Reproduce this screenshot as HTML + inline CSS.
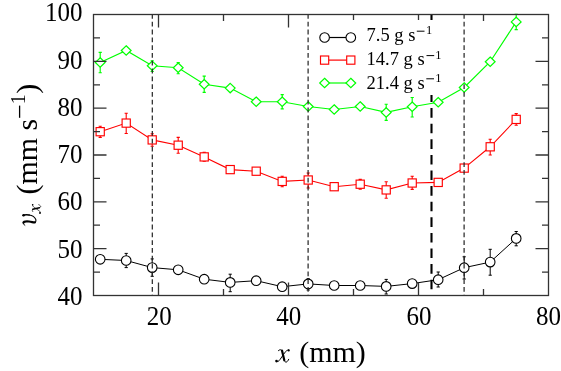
<!DOCTYPE html>
<html><head><meta charset="utf-8"><style>
html,body{margin:0;padding:0;background:#fff;}
svg{display:block;will-change:transform;}
text{font-family:"Liberation Serif",serif;fill:#000;}
.tk{font-size:25px;}
.lg{font-size:18.5px;}
.ti{font-size:30px;}
</style></head><body>
<svg width="561" height="371" viewBox="0 0 561 371">
<rect width="561" height="371" fill="#fff"/>
<polyline points="100.2,259.3 126.2,260.5 152.2,267.6 178.2,269.8 204.2,279.2 230.2,282.4 256.2,280.7 282.2,286.7 308.2,283.9 334.2,285.5 360.2,285.5 386.2,286.4 412.2,283.6 438.2,279.7 464.2,267.7 490.2,262.1 516.2,238.4" fill="none" stroke="#000" stroke-width="1.0"/>
<path d="M126.2 253.4V267.6M124.6 253.4h3.2M124.6 267.6h3.2" stroke="#000" stroke-width="1.0" fill="none"/>
<path d="M152.2 258.9V276.3M150.6 258.9h3.2M150.6 276.3h3.2" stroke="#000" stroke-width="1.0" fill="none"/>
<path d="M230.2 274.2V291.7M228.6 274.2h3.2M228.6 291.7h3.2" stroke="#000" stroke-width="1.0" fill="none"/>
<path d="M308.2 278.7V290.0M306.6 278.7h3.2M306.6 290.0h3.2" stroke="#000" stroke-width="1.0" fill="none"/>
<path d="M386.2 279.4V294.0M384.6 279.4h3.2M384.6 294.0h3.2" stroke="#000" stroke-width="1.0" fill="none"/>
<path d="M438.2 272.0V287.0M436.6 272.0h3.2M436.6 287.0h3.2" stroke="#000" stroke-width="1.0" fill="none"/>
<path d="M464.2 256.8V279.0M462.6 256.8h3.2M462.6 279.0h3.2" stroke="#000" stroke-width="1.0" fill="none"/>
<path d="M490.2 249.3V275.2M488.6 249.3h3.2M488.6 275.2h3.2" stroke="#000" stroke-width="1.0" fill="none"/>
<path d="M516.2 231.5V245.8M514.6 231.5h3.2M514.6 245.8h3.2" stroke="#000" stroke-width="1.0" fill="none"/>
<circle cx="100.2" cy="259.3" r="4.8" fill="#fff" stroke="#000" stroke-width="1.1"/>
<circle cx="126.2" cy="260.5" r="4.8" fill="#fff" stroke="#000" stroke-width="1.1"/>
<circle cx="152.2" cy="267.6" r="4.8" fill="#fff" stroke="#000" stroke-width="1.1"/>
<circle cx="178.2" cy="269.8" r="4.8" fill="#fff" stroke="#000" stroke-width="1.1"/>
<circle cx="204.2" cy="279.2" r="4.8" fill="#fff" stroke="#000" stroke-width="1.1"/>
<circle cx="230.2" cy="282.4" r="4.8" fill="#fff" stroke="#000" stroke-width="1.1"/>
<circle cx="256.2" cy="280.7" r="4.8" fill="#fff" stroke="#000" stroke-width="1.1"/>
<circle cx="282.2" cy="286.7" r="4.8" fill="#fff" stroke="#000" stroke-width="1.1"/>
<circle cx="308.2" cy="283.9" r="4.8" fill="#fff" stroke="#000" stroke-width="1.1"/>
<circle cx="334.2" cy="285.5" r="4.8" fill="#fff" stroke="#000" stroke-width="1.1"/>
<circle cx="360.2" cy="285.5" r="4.8" fill="#fff" stroke="#000" stroke-width="1.1"/>
<circle cx="386.2" cy="286.4" r="4.8" fill="#fff" stroke="#000" stroke-width="1.1"/>
<circle cx="412.2" cy="283.6" r="4.8" fill="#fff" stroke="#000" stroke-width="1.1"/>
<circle cx="438.2" cy="279.7" r="4.8" fill="#fff" stroke="#000" stroke-width="1.1"/>
<circle cx="464.2" cy="267.7" r="4.8" fill="#fff" stroke="#000" stroke-width="1.1"/>
<circle cx="490.2" cy="262.1" r="4.8" fill="#fff" stroke="#000" stroke-width="1.1"/>
<circle cx="516.2" cy="238.4" r="4.8" fill="#fff" stroke="#000" stroke-width="1.1"/>
<polyline points="100.2,131.7 126.2,123.1 152.2,139.9 178.2,145.2 204.2,156.9 230.2,169.6 256.2,171.2 282.2,181.4 308.2,180.0 334.2,186.7 360.2,184.2 386.2,189.9 412.2,183.0 438.2,182.4 464.2,168.1 490.2,146.8 516.2,119.4" fill="none" stroke="#ff0000" stroke-width="1.1"/>
<path d="M360.2 179.4V189.1M358.6 179.4h3.2M358.6 189.1h3.2" stroke="#ff0000" stroke-width="1.1" fill="none"/>
<path d="M100.2 126.2V137.4M98.6 126.2h3.2M98.6 137.4h3.2" stroke="#ff0000" stroke-width="1.1" fill="none"/>
<path d="M126.2 113.3V133.5M124.6 113.3h3.2M124.6 133.5h3.2" stroke="#ff0000" stroke-width="1.1" fill="none"/>
<path d="M152.2 133.7V146.2M150.6 133.7h3.2M150.6 146.2h3.2" stroke="#ff0000" stroke-width="1.1" fill="none"/>
<path d="M178.2 137.4V153.2M176.6 137.4h3.2M176.6 153.2h3.2" stroke="#ff0000" stroke-width="1.1" fill="none"/>
<path d="M204.2 152.4V161.1M202.6 152.4h3.2M202.6 161.1h3.2" stroke="#ff0000" stroke-width="1.1" fill="none"/>
<path d="M282.2 176.2V186.7M280.6 176.2h3.2M280.6 186.7h3.2" stroke="#ff0000" stroke-width="1.1" fill="none"/>
<path d="M308.2 173.0V188.0M306.6 173.0h3.2M306.6 188.0h3.2" stroke="#ff0000" stroke-width="1.1" fill="none"/>
<path d="M386.2 181.7V198.2M384.6 181.7h3.2M384.6 198.2h3.2" stroke="#ff0000" stroke-width="1.1" fill="none"/>
<path d="M412.2 176.2V189.4M410.6 176.2h3.2M410.6 189.4h3.2" stroke="#ff0000" stroke-width="1.1" fill="none"/>
<path d="M490.2 139.2V155.0M488.6 139.2h3.2M488.6 155.0h3.2" stroke="#ff0000" stroke-width="1.1" fill="none"/>
<path d="M516.2 113.6V125.2M514.6 113.6h3.2M514.6 125.2h3.2" stroke="#ff0000" stroke-width="1.1" fill="none"/>
<rect x="96.10" y="127.60" width="8.2" height="8.2" fill="#fff" stroke="#ff0000" stroke-width="1.15"/>
<rect x="122.10" y="119.00" width="8.2" height="8.2" fill="#fff" stroke="#ff0000" stroke-width="1.15"/>
<rect x="148.10" y="135.80" width="8.2" height="8.2" fill="#fff" stroke="#ff0000" stroke-width="1.15"/>
<rect x="174.10" y="141.10" width="8.2" height="8.2" fill="#fff" stroke="#ff0000" stroke-width="1.15"/>
<rect x="200.10" y="152.80" width="8.2" height="8.2" fill="#fff" stroke="#ff0000" stroke-width="1.15"/>
<rect x="226.10" y="165.50" width="8.2" height="8.2" fill="#fff" stroke="#ff0000" stroke-width="1.15"/>
<rect x="252.10" y="167.10" width="8.2" height="8.2" fill="#fff" stroke="#ff0000" stroke-width="1.15"/>
<rect x="278.10" y="177.30" width="8.2" height="8.2" fill="#fff" stroke="#ff0000" stroke-width="1.15"/>
<rect x="304.10" y="175.90" width="8.2" height="8.2" fill="#fff" stroke="#ff0000" stroke-width="1.15"/>
<rect x="330.10" y="182.60" width="8.2" height="8.2" fill="#fff" stroke="#ff0000" stroke-width="1.15"/>
<rect x="356.10" y="180.10" width="8.2" height="8.2" fill="#fff" stroke="#ff0000" stroke-width="1.15"/>
<rect x="382.10" y="185.80" width="8.2" height="8.2" fill="#fff" stroke="#ff0000" stroke-width="1.15"/>
<rect x="408.10" y="178.90" width="8.2" height="8.2" fill="#fff" stroke="#ff0000" stroke-width="1.15"/>
<rect x="434.10" y="178.30" width="8.2" height="8.2" fill="#fff" stroke="#ff0000" stroke-width="1.15"/>
<rect x="460.10" y="164.00" width="8.2" height="8.2" fill="#fff" stroke="#ff0000" stroke-width="1.15"/>
<rect x="486.10" y="142.70" width="8.2" height="8.2" fill="#fff" stroke="#ff0000" stroke-width="1.15"/>
<rect x="512.10" y="115.30" width="8.2" height="8.2" fill="#fff" stroke="#ff0000" stroke-width="1.15"/>
<polyline points="100.2,62.5 126.2,50.5 152.2,65.8 178.2,67.7 204.2,84.2 230.2,88.1 256.2,101.7 282.2,101.7 308.2,106.5 334.2,109.5 360.2,106.5 386.2,112.4 412.2,106.7 438.2,102.2 464.2,87.5 490.2,61.7 516.2,21.9" fill="none" stroke="#00ff00" stroke-width="1.15"/>
<path d="M100.2 52.3V72.7M98.6 52.3h3.2M98.6 72.7h3.2" stroke="#00ff00" stroke-width="1.15" fill="none"/>
<path d="M152.2 60.7V71.5M150.6 60.7h3.2M150.6 71.5h3.2" stroke="#00ff00" stroke-width="1.15" fill="none"/>
<path d="M178.2 62.6V73.7M176.6 62.6h3.2M176.6 73.7h3.2" stroke="#00ff00" stroke-width="1.15" fill="none"/>
<path d="M204.2 76.1V92.3M202.6 76.1h3.2M202.6 92.3h3.2" stroke="#00ff00" stroke-width="1.15" fill="none"/>
<path d="M282.2 94.6V108.9M280.6 94.6h3.2M280.6 108.9h3.2" stroke="#00ff00" stroke-width="1.15" fill="none"/>
<path d="M386.2 104.2V120.4M384.6 104.2h3.2M384.6 120.4h3.2" stroke="#00ff00" stroke-width="1.15" fill="none"/>
<path d="M412.2 97.5V117.0M410.6 97.5h3.2M410.6 117.0h3.2" stroke="#00ff00" stroke-width="1.15" fill="none"/>
<path d="M516.2 14.2V29.6M514.6 14.2h3.2M514.6 29.6h3.2" stroke="#00ff00" stroke-width="1.15" fill="none"/>
<path d="M100.2 57.8L105.1 62.5L100.2 67.2L95.3 62.5Z" fill="#fff" stroke="#00ff00" stroke-width="1.2"/>
<path d="M126.2 45.8L131.1 50.5L126.2 55.2L121.3 50.5Z" fill="#fff" stroke="#00ff00" stroke-width="1.2"/>
<path d="M152.2 61.1L157.1 65.8L152.2 70.5L147.3 65.8Z" fill="#fff" stroke="#00ff00" stroke-width="1.2"/>
<path d="M178.2 63.0L183.1 67.7L178.2 72.4L173.3 67.7Z" fill="#fff" stroke="#00ff00" stroke-width="1.2"/>
<path d="M204.2 79.5L209.1 84.2L204.2 88.9L199.3 84.2Z" fill="#fff" stroke="#00ff00" stroke-width="1.2"/>
<path d="M230.2 83.4L235.1 88.1L230.2 92.8L225.3 88.1Z" fill="#fff" stroke="#00ff00" stroke-width="1.2"/>
<path d="M256.2 97.0L261.1 101.7L256.2 106.4L251.3 101.7Z" fill="#fff" stroke="#00ff00" stroke-width="1.2"/>
<path d="M282.2 97.0L287.1 101.7L282.2 106.4L277.3 101.7Z" fill="#fff" stroke="#00ff00" stroke-width="1.2"/>
<path d="M308.2 101.8L313.1 106.5L308.2 111.2L303.3 106.5Z" fill="#fff" stroke="#00ff00" stroke-width="1.2"/>
<path d="M334.2 104.8L339.1 109.5L334.2 114.2L329.3 109.5Z" fill="#fff" stroke="#00ff00" stroke-width="1.2"/>
<path d="M360.2 101.8L365.1 106.5L360.2 111.2L355.3 106.5Z" fill="#fff" stroke="#00ff00" stroke-width="1.2"/>
<path d="M386.2 107.7L391.1 112.4L386.2 117.1L381.3 112.4Z" fill="#fff" stroke="#00ff00" stroke-width="1.2"/>
<path d="M412.2 102.0L417.1 106.7L412.2 111.4L407.3 106.7Z" fill="#fff" stroke="#00ff00" stroke-width="1.2"/>
<path d="M438.2 97.5L443.1 102.2L438.2 106.9L433.3 102.2Z" fill="#fff" stroke="#00ff00" stroke-width="1.2"/>
<path d="M464.2 82.8L469.1 87.5L464.2 92.2L459.3 87.5Z" fill="#fff" stroke="#00ff00" stroke-width="1.2"/>
<path d="M490.2 57.0L495.1 61.7L490.2 66.4L485.3 61.7Z" fill="#fff" stroke="#00ff00" stroke-width="1.2"/>
<path d="M516.2 17.2L521.1 21.9L516.2 26.6L511.3 21.9Z" fill="#fff" stroke="#00ff00" stroke-width="1.2"/>
<line x1="152.3" y1="14" x2="152.3" y2="295.5" stroke="#222" stroke-width="1.2" stroke-dasharray="4.8 3.0"/>
<line x1="308.1" y1="14" x2="308.1" y2="295.5" stroke="#222" stroke-width="1.2" stroke-dasharray="4.8 3.0"/>
<line x1="464.1" y1="14" x2="464.1" y2="295.5" stroke="#222" stroke-width="1.2" stroke-dasharray="4.8 3.0"/>
<line x1="431.5" y1="14.5" x2="431.5" y2="295.5" stroke="#000" stroke-width="2.1" stroke-dasharray="9.6 6.0" />
<rect x="93.5" y="14.5" width="455.0" height="281.0" fill="none" stroke="#333" stroke-width="1.3"/>
<path d="M158.5 295.5v-13M158.5 14.5v13" stroke="#333" stroke-width="1.3"/>
<path d="M223.5 295.5v-6.5M223.5 14.5v6.5" stroke="#333" stroke-width="1.3"/>
<path d="M288.5 295.5v-13M288.5 14.5v13" stroke="#333" stroke-width="1.3"/>
<path d="M353.5 295.5v-6.5M353.5 14.5v6.5" stroke="#333" stroke-width="1.3"/>
<path d="M418.5 295.5v-13M418.5 14.5v13" stroke="#333" stroke-width="1.3"/>
<path d="M483.5 295.5v-6.5M483.5 14.5v6.5" stroke="#333" stroke-width="1.3"/>
<path d="M93.5 272.1h6.5M548.5 272.1h-6.5" stroke="#333" stroke-width="1.3"/>
<path d="M93.5 248.7h13M548.5 248.7h-13" stroke="#333" stroke-width="1.3"/>
<path d="M93.5 225.2h6.5M548.5 225.2h-6.5" stroke="#333" stroke-width="1.3"/>
<path d="M93.5 201.8h13M548.5 201.8h-13" stroke="#333" stroke-width="1.3"/>
<path d="M93.5 178.4h6.5M548.5 178.4h-6.5" stroke="#333" stroke-width="1.3"/>
<path d="M93.5 155.0h13M548.5 155.0h-13" stroke="#333" stroke-width="1.3"/>
<path d="M93.5 131.6h6.5M548.5 131.6h-6.5" stroke="#333" stroke-width="1.3"/>
<path d="M93.5 108.2h13M548.5 108.2h-13" stroke="#333" stroke-width="1.3"/>
<path d="M93.5 84.8h6.5M548.5 84.8h-6.5" stroke="#333" stroke-width="1.3"/>
<path d="M93.5 61.3h13M548.5 61.3h-13" stroke="#333" stroke-width="1.3"/>
<path d="M93.5 37.9h6.5M548.5 37.9h-6.5" stroke="#333" stroke-width="1.3"/>
<rect x="310" y="20" width="136" height="75" fill="#fff"/>
<line x1="324.6" y1="37.5" x2="350.8" y2="37.5" stroke="#000" stroke-width="1.2"/>
<circle cx="324.6" cy="37.5" r="4.8" fill="#fff" stroke="#000" stroke-width="1.1"/>
<circle cx="350.8" cy="37.5" r="4.8" fill="#fff" stroke="#000" stroke-width="1.1"/>
<text x="366.5" y="41.2" class="lg">7.5 g s</text>
<line x1="416.8" y1="31.2" x2="424.5" y2="31.2" stroke="#000" stroke-width="1"/>
<text x="426.1" y="34.2" class="lg" style="font-size:12.5px">1</text>
<line x1="324.6" y1="60.1" x2="350.8" y2="60.1" stroke="#ff0000" stroke-width="1.2"/>
<rect x="320.50" y="56.00" width="8.2" height="8.2" fill="#fff" stroke="#ff0000" stroke-width="1.15"/>
<rect x="346.70" y="56.00" width="8.2" height="8.2" fill="#fff" stroke="#ff0000" stroke-width="1.15"/>
<text x="366.5" y="65.2" class="lg">14.7 g s</text>
<line x1="426.5" y1="55.6" x2="434.2" y2="55.6" stroke="#000" stroke-width="1"/>
<text x="435.3" y="58.6" class="lg" style="font-size:12.5px">1</text>
<line x1="324.6" y1="83.0" x2="350.8" y2="83.0" stroke="#00ff00" stroke-width="1.2"/>
<path d="M324.6 78.3L329.5 83.0L324.6 87.7L319.7 83.0Z" fill="#fff" stroke="#00ff00" stroke-width="1.2"/>
<path d="M350.8 78.3L355.7 83.0L350.8 87.7L345.9 83.0Z" fill="#fff" stroke="#00ff00" stroke-width="1.2"/>
<text x="366.5" y="88.8" class="lg">21.4 g s</text>
<line x1="426.3" y1="78.8" x2="434.0" y2="78.8" stroke="#000" stroke-width="1"/>
<text x="435.3" y="81.8" class="lg" style="font-size:12.5px">1</text>
<text transform="translate(82.6,304.77) scale(1,1.05)" class="tk" text-anchor="end">40</text>
<text transform="translate(82.6,257.52) scale(1,1.05)" class="tk" text-anchor="end">50</text>
<text transform="translate(82.6,210.27) scale(1,1.05)" class="tk" text-anchor="end">60</text>
<text transform="translate(82.6,163.02) scale(1,1.05)" class="tk" text-anchor="end">70</text>
<text transform="translate(82.6,115.77) scale(1,1.05)" class="tk" text-anchor="end">80</text>
<text transform="translate(82.6,68.52) scale(1,1.05)" class="tk" text-anchor="end">90</text>
<text transform="translate(82.6,21.27) scale(1,1.05)" class="tk" text-anchor="end">100</text>
<text transform="translate(159.3,324.7) scale(1,1.05)" class="tk" text-anchor="middle">20</text>
<text transform="translate(288.8,324.7) scale(1,1.05)" class="tk" text-anchor="middle">40</text>
<text transform="translate(419.0,324.7) scale(1,1.05)" class="tk" text-anchor="middle">60</text>
<text transform="translate(548.6,324.7) scale(1,1.05)" class="tk" text-anchor="middle">80</text>
<g transform="translate(274,362.3)"><path d="M4.4 -11.7C5.3 -12.8 7.3 -13.1 8.0 -11.7M10.3 -2.1C10.7 -0.5 11.5 0 12.3 -0.2C13.3 -0.5 14.2 -1.8 14.7 -3.0" fill="none" stroke="#000" stroke-width="1.0" stroke-linecap="round"/><path d="M8.0 -11.7L10.3 -2.1" stroke="#000" stroke-width="2.2" stroke-linecap="round"/><path d="M2.6 -0.9C3.8 -0.3 4.8 -1.1 5.8 -2.5L10.7 -9.5C11.6 -11.0 12.8 -12.1 14.6 -12.3" fill="none" stroke="#000" stroke-width="1.0" stroke-linecap="round"/><circle cx="2.5" cy="-1.2" r="1.3"/><circle cx="14.7" cy="-11.9" r="1.15"/></g>
<text x="299.2" y="362.3" class="ti">(mm)</text>
<g transform="translate(36.6,226.7) rotate(-90)"><path d="M1.34 -11.75C2.0 -12.9 3.0 -13.3 4.0 -13.2" fill="none" stroke="#000" stroke-width="1.0" stroke-linecap="round"/><path d="M4.0 -13.2C5.3 -12.9 5.5 -10.5 5.2 -7.5C5.0 -5.0 4.0 -3.0 4.3 -1.8" fill="none" stroke="#000" stroke-width="2.2" stroke-linecap="round"/><path d="M4.3 -1.8C4.7 -0.6 6.5 -0.5 7.5 -0.9C9.5 -1.8 11.2 -4.5 11.7 -7.5" fill="none" stroke="#000" stroke-width="1.1" stroke-linecap="round"/><path d="M11.7 -7.5C12.1 -10 11.9 -12.3 11.3 -13.4" fill="none" stroke="#000" stroke-width="1.6" stroke-linecap="round"/><circle cx="11.4" cy="-13.0" r="1.3"/><g transform="translate(12.0,4.2) scale(0.68)"><path d="M4.4 -11.7C5.3 -12.8 7.3 -13.1 8.0 -11.7M10.3 -2.1C10.7 -0.5 11.5 0 12.3 -0.2C13.3 -0.5 14.2 -1.8 14.7 -3.0" fill="none" stroke="#000" stroke-width="1.0" stroke-linecap="round"/><path d="M8.0 -11.7L10.3 -2.1" stroke="#000" stroke-width="2.2" stroke-linecap="round"/><path d="M2.6 -0.9C3.8 -0.3 4.8 -1.1 5.8 -2.5L10.7 -9.5C11.6 -11.0 12.8 -12.1 14.6 -12.3" fill="none" stroke="#000" stroke-width="1.0" stroke-linecap="round"/><circle cx="2.5" cy="-1.2" r="1.3"/><circle cx="14.7" cy="-11.9" r="1.15"/></g><text x="32.1" y="0" class="ti">(mm s</text><line x1="108.9" y1="-17" x2="121.1" y2="-17" stroke="#000" stroke-width="1.3"/><text x="122.5" y="-11.8" class="ti" style="font-size:20px">1</text><text x="133" y="0" class="ti">)</text></g>
</svg>
</body></html>
